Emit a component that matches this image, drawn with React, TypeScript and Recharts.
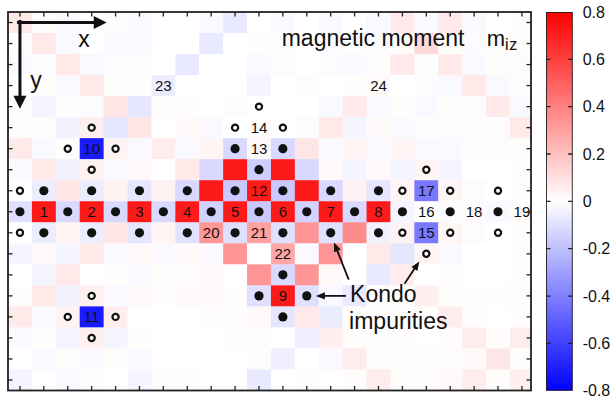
import { ComposedChart, Scatter, XAxis, YAxis } from 'recharts';

// local magnetic moment m_iz on the 22 x 18 lattice (row 0 = top)
const moment: number[][] = [
  [0.07, 0.01, -0.02, 0, 0.01, -0.02, 0, 0, -0.02, -0.07, 0, -0.02, 0, -0.02, 0, -0.02, 0.07, -0.02, 0.07, -0.02, 0, 0.01],
  [0.01, 0.07, -0.02, 0, -0.02, -0.02, 0, 0, -0.07, 0, 0.01, -0.01, 0, -0.01, 0.01, -0.01, 0.01, 0.12, 0.01, -0.01, 0.01, 0.01],
  [-0.02, -0.01, 0.07, -0.02, -0.01, -0.01, 0, -0.07, 0, 0, -0.02, -0.01, 0, -0.01, -0.02, 0.01, 0.07, -0.01, 0.07, -0.02, 0.01, -0.01],
  [0, 0.01, -0.02, 0.07, 0.01, 0.01, -0.06, 0, 0, 0, -0.03, 0, -0.01, 0, 0.01, 0.02, 0, -0.01, -0.02, 0.07, -0.02, 0.01],
  [0.01, -0.03, 0.01, -0.01, 0.08, -0.08, 0.01, 0.01, 0, -0.01, 0, 0, 0, -0.02, 0.07, -0.02, 0.01, -0.02, 0.01, -0.01, 0.07, -0.02],
  [0.01, 0.01, -0.04, 0.05, -0.08, 0.08, 0, 0.02, -0.02, 0, 0.01, 0, -0.01, 0.07, -0.03, 0.02, -0.02, 0.01, -0.01, 0.01, -0.01, 0.07],
  [0.07, -0.02, 0.01, -0.72, 0.04, -0.02, 0.06, -0.02, 0.03, -0.12, 0.02, -0.12, 0.08, -0.02, 0.03, -0.02, 0.03, -0.02, -0.02, 0.01, -0.01, 0.01],
  [-0.02, 0.07, -0.04, 0.04, -0.02, 0.02, 0, 0.07, -0.12, 0.72, -0.15, 0.72, -0.12, 0.02, -0.03, 0.02, -0.03, 0.03, -0.03, 0, 0, 0.01],
  [0, -0.06, 0.08, -0.06, 0.04, -0.08, 0.04, -0.12, 0.72, -0.17, 0.72, -0.17, 0.72, -0.12, 0.04, -0.08, 0.03, -0.42, 0.03, -0.01, 0, 0.01],
  [-0.1, 0.72, -0.12, 0.72, -0.12, 0.72, -0.12, 0.72, -0.14, 0.72, -0.17, 0.72, -0.14, 0.72, -0.12, 0.72, -0.03, 0, -0.01, 0.01, -0.02, 0.01],
  [0, -0.06, 0.03, -0.06, 0.08, -0.08, 0.03, -0.09, 0.33, -0.1, 0.3, -0.1, 0.33, -0.1, 0.36, -0.04, 0.04, -0.42, 0.03, -0.01, 0, 0.01],
  [-0.03, 0.02, -0.03, 0.07, -0.02, 0.02, -0.02, 0.02, -0.02, 0.33, 0, 0.28, -0.02, 0.33, 0, 0.07, -0.08, 0.03, -0.02, 0, 0, 0.01],
  [0, -0.03, 0.07, 0, 0.01, -0.02, 0.01, 0.01, 0.02, 0, 0.33, -0.12, 0.33, 0.02, 0, -0.07, 0.06, 0, 0.01, 0, 0, 0.01],
  [0.01, 0.07, -0.04, 0.05, -0.02, 0.02, 0.01, 0.02, 0.02, 0.01, -0.1, 0.72, -0.1, -0.02, -0.07, 0.01, 0.01, 0.05, 0.01, 0.01, 0.01, 0.01],
  [0.07, -0.02, 0.04, -0.72, 0.06, 0, 0, 0, 0.01, 0.01, 0.02, -0.08, 0.07, -0.06, 0.01, 0.01, 0.01, 0.01, 0.06, 0.01, 0, 0.01],
  [-0.02, 0.01, -0.03, 0.05, -0.03, 0.01, 0, 0, 0, 0.01, 0.01, 0, -0.05, 0.05, 0.01, 0.01, 0.01, 0, 0.01, 0.06, 0.01, 0.06],
  [0, -0.02, 0.01, -0.02, 0.01, -0.02, 0, 0, 0, 0, 0.01, -0.05, 0, -0.02, 0.06, 0.01, 0.01, 0.01, 0.01, 0.02, 0.08, 0.01],
  [-0.03, 0, -0.02, 0.01, 0, -0.03, 0.01, 0.01, 0, 0, -0.07, 0, 0.01, 0, 0.01, 0.06, 0.01, 0.01, 0.02, 0.06, 0.01, 0.05],
];

// Kondo impurities (filled) and their open neighbours, as [column, row]
const filledSites: [number, number][] = [
  [9, 6], [11, 6], [10, 7],
  [1, 8], [3, 8], [5, 8], [7, 8], [9, 8], [11, 8], [13, 8], [15, 8],
  [0, 9], [2, 9], [4, 9], [6, 9], [8, 9], [10, 9], [12, 9], [14, 9], [16, 9], [18, 9], [20, 9],
  [1, 10], [3, 10], [5, 10], [7, 10], [9, 10], [11, 10], [13, 10], [15, 10],
  [11, 12], [10, 13], [12, 13], [11, 14],
];
const openSites: [number, number][] = [
  [10, 4], [9, 5], [11, 5], [3, 5], [2, 6], [4, 6], [3, 7], [17, 7],
  [0, 8], [16, 8], [18, 8], [20, 8], [0, 10], [16, 10], [18, 10], [20, 10],
  [17, 11], [3, 13], [2, 14], [4, 14], [3, 15],
];
const siteNumbers: [number, number, string][] = [
  [1, 9, '1'], [3, 9, '2'], [5, 9, '3'], [7, 9, '4'], [9, 9, '5'], [11, 9, '6'], [13, 9, '7'], [15, 9, '8'],
  [11, 13, '9'], [3, 6, '10'], [3, 14, '11'], [10, 8, '12'], [10, 6, '13'], [10, 5, '14'],
  [17, 10, '15'], [17, 9, '16'], [17, 8, '17'], [19, 9, '18'], [21, 9, '19'],
  [8, 10, '20'], [10, 10, '21'], [11, 11, '22'], [6, 3, '23'], [15, 3, '24'],
];

const colorTicks = [-0.8, -0.6, -0.4, -0.2, 0, 0.2, 0.4, 0.6, 0.8];

const COLS = 22;
const ROWS = 18;
const W = 613;
const H = 403;
// 1px axes on every side, plot area 8..531 x 12..390.5
const M = { top: 11, right: 81, bottom: 11.5, left: 7 };
const X_DOMAIN: [number, number] = [-0.5, 21.38];
const Y_DOMAIN: [number, number] = [-0.5, ROWS - 0.5];
const CELL_W = (W - M.left - M.right - 2) / (X_DOMAIN[1] - X_DOMAIN[0]);
const CELL_H = (H - M.top - M.bottom - 2) / (Y_DOMAIN[1] - Y_DOMAIN[0]);
const CB_M = { top: 11, right: 39.3, bottom: 11.3, left: 545 };
const CB_DOMAIN: [number, number] = [-0.8, 0.8];
const CB_W = W - CB_M.left - CB_M.right - 2;
const CB_H = H - CB_M.top - CB_M.bottom - 2;
const FONT = '"Liberation Sans", Arial, Helvetica, sans-serif';
const INK = '#111';
const FRAME = '#222';

const heat = (v: number) => {
  const t = Math.max(-1, Math.min(1, v / 0.8));
  if (t >= 0) {
    const g = Math.round(255 * (1 - t));
    return `rgb(255,${g},${g})`;
  }
  const g = Math.round(255 * (1 + t));
  return `rgb(${g},${g},255)`;
};

const cells = moment.flatMap((row, y) => row.map((v, x) => ({ x, y, v })));
const filled = filledSites.map(([x, y]) => ({ x, y }));
const open = openSites.map(([x, y]) => ({ x, y }));
const numbers = siteNumbers.map(([x, y, t]) => ({ x, y, t }));

const notes = [
  { x: 2.68, y: 0.78, t: 'x', size: 23 },
  { x: 0.67, y: 2.72, t: 'y', size: 23 },
];
const captions = [
  { x: 10.95, y: 1.1, t: 'magnetic moment', size: 23 },
  { x: 13.81, y: 13.28, t: 'Kondo', size: 23 },
  { x: 13.77, y: 14.56, t: 'impurities', size: 23 },
];
// arrows: tip (x, y) and tail (fx, fy), in lattice units
const arrows = [
  { x: 3.63, y: 0, fx: -0.06, fy: 0, big: true },
  { x: 0, y: 4.1, fx: 0, fy: -0.05, big: true },
  { x: 13.14, y: 10.46, fx: 13.74, fy: 12.19, big: false },
  { x: 16.71, y: 11.36, fx: 16.11, fy: 12.39, big: false },
  { x: 12.38, y: 13.0, fx: 13.6, fy: 13.0, big: false },
];

const xTicks = Array.from({ length: COLS }, (_, i) => i);
const yTicks = Array.from({ length: ROWS }, (_, i) => i);

// tick marks pointing into the frame, placed on the frame edges
const frameTicks = [
  ...xTicks.map((x) => ({ x, y: Y_DOMAIN[1], dx: 0, dy: -1 })),
  ...xTicks.map((x) => ({ x, y: Y_DOMAIN[0], dx: 0, dy: 1 })),
  ...yTicks.map((y) => ({ x: X_DOMAIN[0], y, dx: 1, dy: 0 })),
  ...yTicks.map((y) => ({ x: X_DOMAIN[1], y, dx: -1, dy: 0 })),
];
const frameCorner = [{ x: X_DOMAIN[0], y: Y_DOMAIN[0] }];
const cbInner = colorTicks.slice(1, -1);
const cbTicks = [
  ...cbInner.map((y) => ({ x: 0, y, dx: 1, dy: 0 })),
  ...cbInner.map((y) => ({ x: 1, y, dx: -1, dy: 0 })),
];
const cbCorner = [{ x: 0, y: CB_DOMAIN[1] }];

const CellShape = (p: any) => {
  const right = Math.min(p.payload.x + 0.5, X_DOMAIN[1]);
  return (
    <rect
      x={p.cx - CELL_W / 2}
      y={p.cy - CELL_H / 2}
      width={(right - p.payload.x + 0.5) * CELL_W + 0.4}
      height={CELL_H + 0.4}
      fill={heat(p.payload.v)}
    />
  );
};

const FilledDot = (p: any) => <circle cx={p.cx} cy={p.cy} r={4.6} fill={INK} />;
const OpenDot = (p: any) => <circle cx={p.cx} cy={p.cy} r={3.1} fill="#fff" stroke={INK} strokeWidth={2.2} />;

const NumberText = (p: any) => (
  <text x={p.cx} y={p.cy} textAnchor="middle" dominantBaseline="central" fontSize={15} fontFamily={FONT} fill={INK}>
    {p.payload.t}
  </text>
);
const NoteText = (p: any) => (
  <text x={p.cx} y={p.cy} textAnchor="middle" dominantBaseline="central" fontSize={p.payload.size} fontFamily={FONT} fill={INK}>
    {p.payload.t}
  </text>
);
const CaptionText = (p: any) => (
  <text x={p.cx} y={p.cy} fontSize={p.payload.size} fontFamily={FONT} fill={INK}>
    {p.payload.t}
  </text>
);
const MizText = (p: any) => (
  <text x={p.cx} y={p.cy} fontSize={22} fontFamily={FONT} fill={INK}>
    m
    <tspan fontSize={16} dy={4} letterSpacing={0.5}>
      iz
    </tspan>
  </text>
);

const ArrowShape = (p: any) => {
  const { fx, fy, x, y, big } = p.payload;
  const head = big ? 13 : 9;
  const halfW = big ? 6.5 : 3.6;
  const width = big ? 3 : 1.8;
  const x2 = p.cx;
  const y2 = p.cy;
  const x1 = x2 + (fx - x) * CELL_W;
  const y1 = y2 + (fy - y) * CELL_H;
  const len = Math.hypot(x2 - x1, y2 - y1) || 1;
  const ux = (x2 - x1) / len;
  const uy = (y2 - y1) / len;
  const bx = x2 - ux * head;
  const by = y2 - uy * head;
  return (
    <g>
      <line x1={x1} y1={y1} x2={bx + ux} y2={by + uy} stroke={INK} strokeWidth={width} strokeLinecap="square" />
      <polygon
        points={`${x2},${y2} ${bx - uy * halfW},${by + ux * halfW} ${bx + uy * halfW},${by - ux * halfW}`}
        fill={INK}
      />
    </g>
  );
};

const TickShape = (p: any) => (
  <line
    x1={p.cx}
    y1={p.cy}
    x2={p.cx + p.payload.dx * 4.5}
    y2={p.cy + p.payload.dy * 4.5}
    stroke={FRAME}
    strokeWidth={1.3}
  />
);
const FrameShape = (p: any) => (
  <rect
    x={p.cx}
    y={p.cy}
    width={(X_DOMAIN[1] - X_DOMAIN[0]) * CELL_W}
    height={(Y_DOMAIN[1] - Y_DOMAIN[0]) * CELL_H}
    fill="none"
    stroke={FRAME}
    strokeWidth={1.8}
  />
);
const ColorBarShape = (p: any) => (
  <rect x={p.cx} y={p.cy} width={CB_W} height={CB_H} fill="url(#cbGrad)" stroke={FRAME} strokeWidth={1.8} />
);

const hiddenAxis = { tick: false, tickLine: false, axisLine: false } as const;

const MomentMap = () => (
  <ComposedChart width={W} height={H} margin={M}>
    <XAxis xAxisId="b" type="number" dataKey="x" domain={X_DOMAIN} ticks={xTicks} interval={0}
      orientation="bottom" height={1} {...hiddenAxis} />
    <YAxis yAxisId="l" type="number" dataKey="y" domain={Y_DOMAIN} reversed ticks={yTicks} interval={0}
      orientation="left" width={1} {...hiddenAxis} />
    <XAxis xAxisId="t" type="number" domain={X_DOMAIN} orientation="top" height={1} {...hiddenAxis} />
    <YAxis yAxisId="r" type="number" domain={Y_DOMAIN} orientation="right" width={1} {...hiddenAxis} />
    <Scatter xAxisId="b" yAxisId="l" data={cells} shape={CellShape} isAnimationActive={false} />
    <Scatter xAxisId="b" yAxisId="l" data={filled} shape={FilledDot} isAnimationActive={false} />
    <Scatter xAxisId="b" yAxisId="l" data={open} shape={OpenDot} isAnimationActive={false} />
    <Scatter xAxisId="b" yAxisId="l" data={numbers} shape={NumberText} isAnimationActive={false} />
    <Scatter xAxisId="b" yAxisId="l" data={notes} shape={NoteText} isAnimationActive={false} />
    <Scatter xAxisId="b" yAxisId="l" data={captions} shape={CaptionText} isAnimationActive={false} />
    <Scatter xAxisId="b" yAxisId="l" data={[{ x: 19.53, y: 1.1 }]} shape={MizText} isAnimationActive={false} />
    <Scatter xAxisId="b" yAxisId="l" data={arrows} shape={ArrowShape} isAnimationActive={false} />
    <Scatter xAxisId="b" yAxisId="l" data={frameTicks} shape={TickShape} isAnimationActive={false} />
    <Scatter xAxisId="b" yAxisId="l" data={frameCorner} shape={FrameShape} isAnimationActive={false} />
  </ComposedChart>
);

const ColorBar = () => (
  <ComposedChart width={W} height={H} margin={CB_M} data={[{ x: 0, y: 0 }]}>
    <defs>
      <linearGradient id="cbGrad" x1="0" y1="0" x2="0" y2="1">
        <stop offset="0%" stopColor={heat(0.8)} />
        <stop offset="50%" stopColor={heat(0)} />
        <stop offset="100%" stopColor={heat(-0.8)} />
      </linearGradient>
    </defs>
    <XAxis xAxisId="b" type="number" dataKey="x" domain={[0, 1]} allowDataOverflow orientation="bottom" height={1} {...hiddenAxis} />
    <XAxis xAxisId="t" type="number" dataKey="x" domain={[0, 1]} allowDataOverflow orientation="top" height={1} {...hiddenAxis} />
    <YAxis yAxisId="l" type="number" dataKey="y" domain={CB_DOMAIN} allowDataOverflow orientation="left" width={1} {...hiddenAxis} />
    <YAxis yAxisId="r" type="number" dataKey="y" domain={CB_DOMAIN} allowDataOverflow orientation="right" width={1}
      ticks={colorTicks} interval={0} tickSize={-4} tickMargin={14} tickLine={false} axisLine={false}
      tickFormatter={(v: number) => (v === 0 ? '0' : v.toFixed(1))}
      tick={{ fontSize: 16, fontFamily: FONT, fill: INK }} />
    <Scatter xAxisId="b" yAxisId="l" data={cbCorner} shape={ColorBarShape} isAnimationActive={false} />
    <Scatter xAxisId="b" yAxisId="l" data={cbTicks} shape={TickShape} isAnimationActive={false} />
  </ComposedChart>
);

export default function App() {
  return (
    <div style={{ position: 'absolute', left: 0, top: 0, width: W, height: H, background: '#fff' }}>
      <div style={{ position: 'absolute', left: 0, top: 0 }}>
        <MomentMap />
      </div>
      <div style={{ position: 'absolute', left: 0, top: 0 }}>
        <ColorBar />
      </div>
    </div>
  );
}
